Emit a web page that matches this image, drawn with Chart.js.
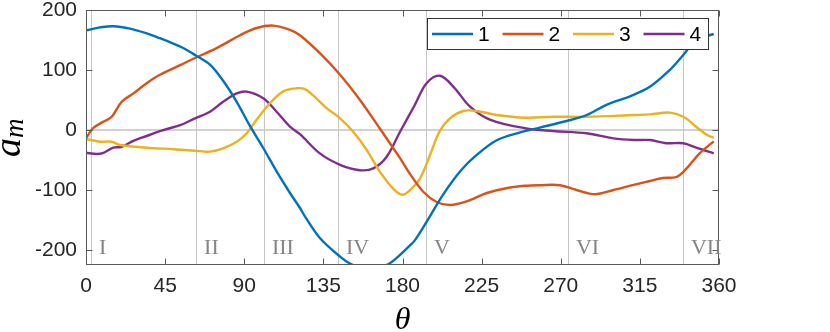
<!DOCTYPE html>
<html><head><meta charset="utf-8">
<script src="https://cdn.jsdelivr.net/npm/chart.js@4"></script>
<style>html,body{margin:0;padding:0;background:#fff}#wrap{width:830px;height:332px;position:relative}</style>
</head><body><div id="wrap"><canvas id="c" width="830" height="332"></canvas></div>
<script>
const seriesLabels = ["1", "2", "3", "4"];
const seriesColors = ["#0072BD", "#D95319", "#EDB120", "#7E2F8E"];

const theta1 = [0, 8, 15.5, 25, 34.5, 42, 49.7, 55, 62, 70.5, 78, 85.7, 93, 100.8, 108.4, 116, 121.7, 124.5, 133, 144.5, 151, 161, 171.8, 178.6, 184, 187, 193.7, 203, 212.7, 222, 233.6, 247, 258, 273.4, 284.7, 296, 310, 320.7, 332, 339.7, 347, 357];
const a1 = [166, 171, 173, 169, 161, 153, 144, 137, 125, 109, 82, 47, 8, -30, -69, -105, -130, -144, -180, -211, -224, -234, -224, -208, -193, -184, -153, -108, -69, -42, -17, -4, 4, 15, 25, 42, 57, 72, 100, 125, 150, 160];

const theta2 = [0, 4, 10, 14.6, 20.3, 27, 34.5, 42, 53.5, 62, 74, 87.6, 97, 106.5, 116, 121.7, 133, 144.5, 155.8, 167, 178.6, 184, 191.8, 199.4, 207, 216.5, 228, 239, 249.7, 258, 269.6, 279, 289.5, 300, 312, 320.7, 328, 336, 341.6, 349, 357];
const a2 = [-14, 3, 14, 22, 47, 61, 78, 92, 108, 120, 136, 158, 170, 174, 167, 158, 128, 92, 50, 3, -47, -72, -103, -120, -125, -119, -105, -97, -93, -92, -92, -100, -107, -100, -91, -85, -80, -78, -64, -39, -19];

const theta3 = [0, 8, 14.6, 19.3, 34.5, 49.7, 62, 70.5, 78, 85.7, 91.4, 97, 104.6, 112, 119.8, 124.5, 129, 137, 144.5, 152, 159.6, 167, 174.8, 180, 184, 190, 195.6, 201, 207, 214.6, 222, 233.6, 249.7, 265.8, 284.7, 312, 320.7, 332, 339.7, 347, 353, 357];
const a3 = [-15, -19.5, -19.5, -25, -29.5, -32, -34.5, -36, -30.5, -19.5, -5.5, 17, 44.5, 64, 69.5, 68, 58, 36, 19.5, -3, -33, -69, -98, -108, -101, -80.5, -42, -3, 19.5, 31.7, 31.7, 25, 20.5, 22, 22, 25, 26, 29, 22, 5.5, -8, -13];

const theta4 = [0, 6, 10, 15.5, 20.3, 27, 34.5, 42, 53.5, 62, 70.5, 78, 85.7, 91.4, 100.8, 108.4, 116, 121.7, 133, 144.5, 155.8, 163.4, 171, 178.6, 187, 193.7, 201.3, 209, 218.4, 230, 249.7, 265.8, 284.7, 300, 312, 320.7, 330, 339.7, 347, 357];
const a4 = [-38, -40, -38, -29.5, -28, -18, -10, -1.7, 8, 19.5, 30.5, 47, 61, 64, 53, 30.5, 5.5, -7, -39, -58, -67, -64, -44.5, -3, 41.7, 78, 90.5, 72, 39, 17, 3, -1.7, -5.5, -14, -16.7, -16.7, -22, -22, -29.5, -39];

const xTicks = [0, 45, 90, 135, 180, 225, 270, 315, 360];
const yTicks = [-200, -100, 0, 100, 200];
const regionBounds = [2.8, 62.6, 101.2, 143.3, 193.4, 274.1, 339.5];
const regionLabels = ["I", "II", "III", "IV", "V", "VI", "VII"];

const thetas = [theta1, theta2, theta3, theta4];
const amps = [a1, a2, a3, a4];

const datasets = seriesLabels.map((lab, i) => ({
  label: lab,
  data: thetas[i].map((t, k) => ({x: t, y: amps[i][k]})),
  borderColor: seriesColors[i],
  backgroundColor: seriesColors[i],
  borderWidth: 2.4,
  pointRadius: 0,
  pointHoverRadius: 0,
  tension: 0.35,
  fill: false
}));

const SANS = '"Liberation Sans", Arial, sans-serif';
const SERIF = '"Liberation Serif", "Times New Roman", serif';

const decor = {
  id: 'decor',
  beforeDatasetsDraw(chart) {
    const {ctx, chartArea: a, scales: {x, y}} = chart;
    ctx.save();
    const y0 = y.getPixelForValue(0);
    ctx.strokeStyle = '#d2d2d2';
    ctx.lineWidth = 2;
    ctx.beginPath(); ctx.moveTo(a.left, y0); ctx.lineTo(a.right, y0); ctx.stroke();
    ctx.strokeStyle = '#c6c6c6';
    ctx.lineWidth = 1;
    regionBounds.forEach(v => {
      const px = Math.round(x.getPixelForValue(v)) + 0.5;
      ctx.beginPath(); ctx.moveTo(px, a.top); ctx.lineTo(px, a.bottom); ctx.stroke();
    });
    ctx.restore();
  },
  afterDatasetsDraw(chart) {
    const {ctx, chartArea: a, scales: {x, y}} = chart;
    ctx.save();
    ctx.strokeStyle = '#5a5a5a';
    ctx.lineWidth = 1;
    const L = Math.round(a.left) + 0.5, R = Math.round(a.right) - 0.5;
    const T = Math.round(a.top) + 0.5, B = Math.round(a.bottom) - 0.5;
    ctx.strokeRect(L, T, R - L, B - T);
    const tl = 6;
    ctx.beginPath();
    xTicks.forEach(v => {
      const px = Math.round(x.getPixelForValue(v)) + 0.5;
      ctx.moveTo(px, B); ctx.lineTo(px, B - tl);
      ctx.moveTo(px, T); ctx.lineTo(px, T + tl);
    });
    yTicks.forEach(v => {
      const py = Math.round(y.getPixelForValue(v)) + 0.5;
      ctx.moveTo(L, py); ctx.lineTo(L + tl, py);
      ctx.moveTo(R, py); ctx.lineTo(R - tl, py);
    });
    ctx.stroke();
    // region labels
    ctx.fillStyle = '#858585';
    ctx.font = '22px ' + SERIF;
    ctx.textAlign = 'left';
    ctx.textBaseline = 'alphabetic';
    regionBounds.forEach((v, i) => {
      const px = x.getPixelForValue(v) + 8;
      ctx.fillText(regionLabels[i], px, a.bottom - 11);
    });
    // legend
    const lx = 427, ly = 18, lw = 281, lh = 31;
    ctx.fillStyle = '#ffffff';
    ctx.fillRect(lx, ly, lw, lh);
    ctx.strokeStyle = '#333333';
    ctx.lineWidth = 1;
    ctx.strokeRect(lx + 0.5, ly + 0.5, lw, lh);
    ctx.font = '21px ' + SANS;
    ctx.textBaseline = 'middle';
    const cy = ly + lh / 2 + 0.5;
    seriesLabels.forEach((lab, i) => {
      const sx = 432 + i * 70.5;
      ctx.strokeStyle = seriesColors[i];
      ctx.lineWidth = 2.4;
      ctx.beginPath(); ctx.moveTo(sx, cy); ctx.lineTo(sx + 41, cy); ctx.stroke();
      ctx.fillStyle = '#000';
      ctx.fillText(lab, sx + 46, cy + 1);
    });
    // y title a_m
    ctx.fillStyle = '#000';
    ctx.save();
    ctx.translate(20, 157);
    ctx.rotate(-Math.PI / 2);
    ctx.textBaseline = 'alphabetic';
    ctx.font = 'italic 38px ' + SERIF;
    ctx.fillText('a', 0, 0);
    const w = ctx.measureText('a').width;
    ctx.font = 'italic 27px ' + SERIF;
    ctx.fillText('m', w, 3);
    ctx.restore();
    // x title theta
    ctx.font = 'italic 32px ' + SERIF;
    ctx.textAlign = 'center';
    ctx.textBaseline = 'alphabetic';
    ctx.fillText('\u03B8', (a.left + a.right) / 2, 329);
    ctx.restore();
  }
};

new Chart(document.getElementById('c'), {
  type: 'line',
  data: {datasets},
  options: {
    responsive: false,
    animation: false,
    devicePixelRatio: 1,
    layout: {padding: {top: 10, right: 111, left: 0, bottom: 0}},
    plugins: {legend: {display: false}, tooltip: {enabled: false}},
    scales: {
      x: {
        type: 'linear', min: 0, max: 360,
        afterBuildTicks: s => { s.ticks = xTicks.map(v => ({value: v})); },
        afterFit: s => { s.height = 67; s.paddingLeft = 0; s.paddingRight = 0; s.paddingTop = 0; s.paddingBottom = 0; },
        grid: {display: false, drawTicks: false},
        border: {display: false},
        ticks: {color: '#262626', font: {family: SANS, size: 21}, padding: 9, maxRotation: 0, autoSkip: false}
      },
      y: {
        type: 'linear', min: -225, max: 200,
        afterBuildTicks: s => { s.ticks = yTicks.map(v => ({value: v})); },
        afterFit: s => { s.width = 86; s.paddingLeft = 0; s.paddingRight = 0; s.paddingTop = 0; s.paddingBottom = 0; },
        grid: {display: false, drawTicks: false},
        border: {display: false},
        ticks: {color: '#262626', font: {family: SANS, size: 21, lineHeight: 0.9}, padding: 9}
      }
    }
  },
  plugins: [decor]
});
</script>
</body></html>
